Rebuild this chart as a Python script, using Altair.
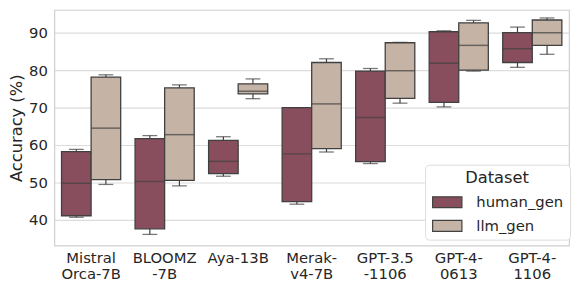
import altair as alt
import pandas as pd

categories = ["Mistral|Orca-7B", "BLOOMZ|-7B", "Aya-13B", "Merak-|v4-7B",
              "GPT-3.5|-1106", "GPT-4-|0613", "GPT-4-|1106"]
datasets = ["human_gen", "llm_gen"]

human_lo = [40.6, 36.0, 51.6, 44.1, 55.0, 70.2, 80.8]
human_q1 = [41.0, 37.5, 52.3, 44.8, 55.5, 71.4, 82.1]
human_med = [49.7, 50.2, 55.6, 57.6, 67.35, 81.9, 85.8]
human_q3 = [58.2, 61.7, 61.2, 70.0, 79.8, 90.35, 90.1]
human_hi = [58.8, 62.5, 62.2, 70.0, 80.5, 90.6, 91.6]

llm_lo = [49.4, 49.0, 72.4, 58.1, 71.2, 79.8, 84.3]
llm_q1 = [50.7, 50.5, 73.7, 59.0, 72.5, 80.05, 86.7]
llm_med = [64.5, 62.75, 74.4, 71.0, 79.9, 86.7, 90.1]
llm_q3 = [78.2, 75.3, 76.4, 82.1, 87.4, 92.75, 93.5]
llm_hi = [78.8, 76.1, 77.7, 83.1, 87.5, 93.4, 94.05]

colors = ["#894E5E", "#C5B3A6"]
edge = "#404040"

rows = []
for name, lo, q1, med, q3, hi in [
    ("human_gen", human_lo, human_q1, human_med, human_q3, human_hi),
    ("llm_gen", llm_lo, llm_q1, llm_med, llm_q3, llm_hi),
]:
    for i, c in enumerate(categories):
        rows.append(dict(model=c, Dataset=name, lo=lo[i], q1=q1[i],
                         med=med[i], q3=q3[i], hi=hi[i]))
df = pd.DataFrame(rows)

x = alt.X("model:N", sort=categories, title=None,
          scale=alt.Scale(paddingInner=0, paddingOuter=0),
          axis=alt.Axis(labelExpr="split(datum.label, '|')", labelAngle=0,
                        labelFontSize=15, labelColor="#262626", labelPadding=5,
                        labelLineHeight=16, labelFont="DejaVu Sans",
                        domain=False, ticks=False, grid=False))
xo = alt.XOffset("Dataset:N", sort=datasets,
                 scale=alt.Scale(paddingInner=0, paddingOuter=0.243))
yscale = alt.Scale(domain=[33, 96.2], nice=False, zero=False)
yaxis = alt.Axis(values=[40, 50, 60, 70, 80, 90], title="Accuracy (%)",
                 titleFontSize=16.5, titleFontWeight="normal", titleColor="#262626",
                 titleFont="DejaVu Sans", titlePadding=4,
                 labelFontSize=15, labelColor="#262626", labelFont="DejaVu Sans",
                 labelPadding=7, domain=False, ticks=False,
                 gridColor="#dcdcdc", gridWidth=1.2)

base = alt.Chart(df)

whisk = base.mark_rule(color=edge, strokeWidth=1.2).encode(
    x=x, xOffset=xo,
    y=alt.Y("lo:Q", scale=yscale, axis=yaxis), y2="hi:Q")

boxes = base.mark_bar(stroke=edge, strokeWidth=1.3).encode(
    x=x, xOffset=xo,
    y=alt.Y("q1:Q", scale=yscale), y2="q3:Q",
    color=alt.Color("Dataset:N", sort=datasets,
                    scale=alt.Scale(domain=datasets, range=colors),
                    legend=alt.Legend(title="Dataset", orient="none",
                                      legendX=376, legendY=157)))

med = base.mark_tick(color=edge, size=30, thickness=1.5, orient="horizontal").encode(
    x=x, xOffset=xo, y=alt.Y("med:Q", scale=yscale))
cap_lo = base.mark_tick(color=edge, size=15, thickness=1.3, orient="horizontal").encode(
    x=x, xOffset=xo, y=alt.Y("lo:Q", scale=yscale))
cap_hi = base.mark_tick(color=edge, size=15, thickness=1.3, orient="horizontal").encode(
    x=x, xOffset=xo, y=alt.Y("hi:Q", scale=yscale))

chart = alt.layer(whisk, boxes, med, cap_lo, cap_hi).properties(
    width=522, height=239,
    autosize=alt.AutoSizeParams(type="none"),
    padding={"left": 47, "top": 0, "right": 3, "bottom": 38},
).configure_view(
    stroke="#d0d0d0", strokeWidth=1.2
).configure_legend(
    titleFontSize=16.5, titleFontWeight="normal", titleColor="#262626",
    titleFont="DejaVu Sans", titleAnchor="middle", titlePadding=8,
    labelFontSize=15, labelColor="#262626", labelFont="DejaVu Sans",
    labelOffset=22, rowPadding=7, symbolOffset=9,
    symbolType="M-2.7,-1H2.7V1H-2.7Z", symbolSize=121,
    symbolStrokeColor=edge, symbolStrokeWidth=1.2, symbolOpacity=1,
    padding=6, strokeColor="#dddddd", fillColor="white", cornerRadius=4,
)

chart.save("out.html", embed_options={"renderer": "svg", "actions": False})
